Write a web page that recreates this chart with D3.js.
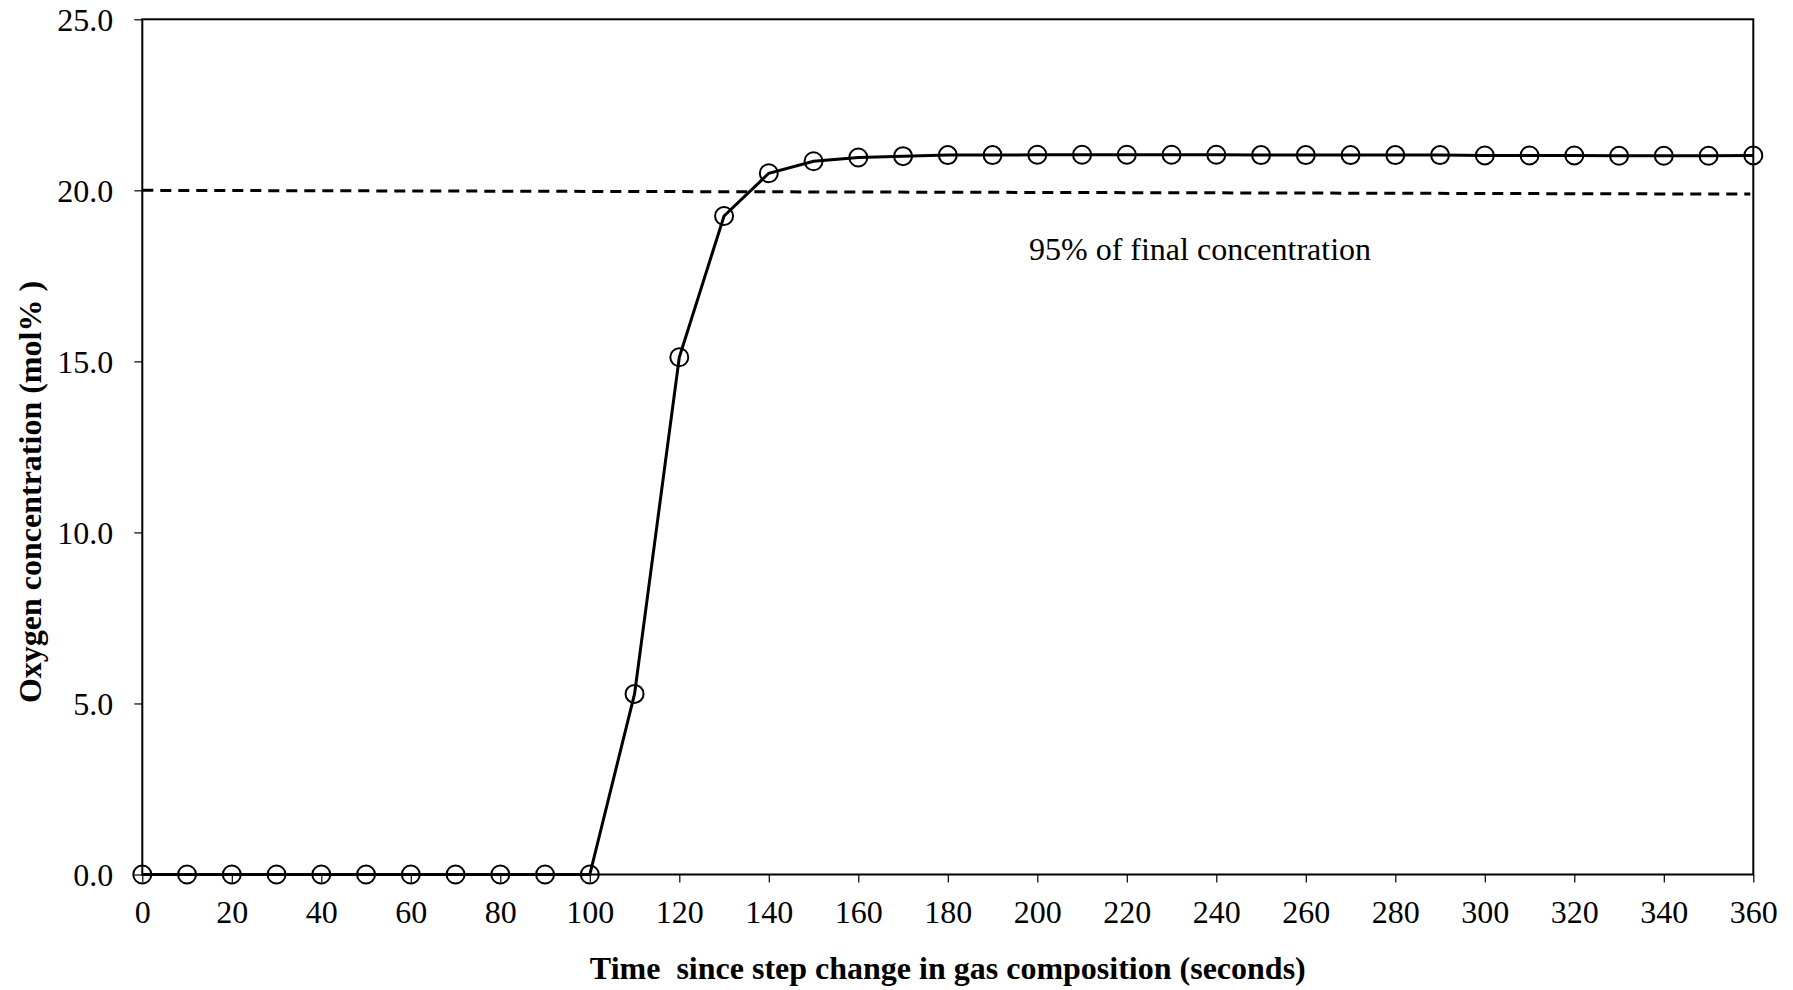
<!DOCTYPE html>
<html>
<head>
<meta charset="utf-8">
<script src="https://cdn.jsdelivr.net/npm/d3@7"></script>
<style>
  body { margin: 0; background: #fff; }
  svg { display: block; }
</style>
</head>
<body>
<div id="chart"></div>
<script>
// time since step change (s) and measured O2 (mol%)
var times = [0, 10, 20, 30, 40, 50, 60, 70, 80, 90, 100, 110, 120, 130, 140, 150, 160, 170, 180,
    190, 200, 210, 220, 230, 240, 250, 260, 270, 280, 290, 300, 310, 320, 330, 340, 350, 360];
var oxygen = [0, 0, 0, 0, 0, 0, 0, 0, 0, 0, 0, 5.28, 15.12, 19.25, 20.50, 20.85, 20.96, 21.00, 21.03,
    21.03, 21.04, 21.04, 21.04, 21.04, 21.04, 21.03, 21.03, 21.03, 21.03, 21.03, 21.02, 21.02, 21.02, 21.01, 21.01, 21.01, 21.02];
// 95% threshold line (start, end)
var thresholdX = [0, 360];
var thresholdY = [20.0, 19.89];
var xTicks = d3.range(0, 361, 20);
var yTicks = [0, 5, 10, 15, 20, 25];
var xTitle = "Time  since step change in gas composition (seconds)";
var yTitle = "Oxygen concentration (mol% )";
var noteText = "95% of final concentration";

var w = 1793, h = 990;
var margin = {left: 142.3, right: 1793 - 1753.3, top: 19.3, bottom: 990 - 874.5};
var fontFam = "'Liberation Serif', 'Times New Roman', serif";

var svg = d3.select("#chart").append("svg").attr("width", w).attr("height", h);

var x = d3.scaleLinear().domain([0, 360]).range([margin.left, w - margin.right]);
var y = d3.scaleLinear().domain([0, 25]).range([h - margin.bottom, margin.top]);

// frame
svg.append("rect")
    .attr("x", x(0)).attr("y", y(25))
    .attr("width", x(360) - x(0)).attr("height", y(0) - y(25))
    .attr("fill", "none").attr("stroke", "#000").attr("stroke-width", 2);

var xAxis = svg.append("g")
    .attr("transform", "translate(0," + y(0) + ")")
    .call(d3.axisBottom(x).tickValues(xTicks).tickSize(8).tickPadding(18).tickFormat(d3.format("d")));
var yAxis = svg.append("g")
    .attr("transform", "translate(" + x(0) + ",0)")
    .call(d3.axisLeft(y).tickValues(yTicks).tickSize(8).tickPadding(21).tickFormat(d3.format(".1f")));

[xAxis, yAxis].forEach(function(g) {
    g.select(".domain").remove();
    g.selectAll("line").attr("stroke", "#000").attr("stroke-width", 1.2);
    g.selectAll("text")
        .attr("font-family", fontFam)
        .attr("font-size", "32px")
        .attr("fill", "#000");
});
yAxis.selectAll("text").attr("dy", "0.34em");

// threshold dashed line
svg.append("line")
    .attr("x1", x(thresholdX[0])).attr("y1", y(thresholdY[0]))
    .attr("x2", x(thresholdX[1]) - 3).attr("y2", y(thresholdY[1]))
    .attr("stroke", "#000").attr("stroke-width", 3)
    .attr("stroke-dasharray", "11,7");

var pts = times.map(function(t, i) { return [t, oxygen[i]]; });

var line = d3.line()
    .x(function(d) { return x(d[0]); })
    .y(function(d) { return y(d[1]); });

svg.append("path")
    .datum(pts)
    .attr("d", line)
    .attr("fill", "none")
    .attr("stroke", "#000")
    .attr("stroke-width", 3);

svg.selectAll("circle.pt")
    .data(pts)
    .enter().append("circle")
    .attr("class", "pt")
    .attr("cx", function(d) { return x(d[0]); })
    .attr("cy", function(d) { return y(d[1]); })
    .attr("r", 9)
    .attr("fill", "none")
    .attr("stroke", "#000")
    .attr("stroke-width", 2);

svg.append("text")
    .attr("x", 1029).attr("y", 260)
    .attr("font-family", fontFam)
    .attr("font-size", "32px")
    .text(noteText);

svg.append("text")
    .attr("x", (x(0) + x(360)) / 2).attr("y", 979)
    .attr("text-anchor", "middle")
    .attr("font-family", fontFam)
    .attr("font-size", "32px")
    .attr("font-weight", "bold")
    .style("white-space", "pre")
    .text(xTitle);

svg.append("text")
    .attr("transform", "translate(41," + ((289 + 695) / 2) + ") rotate(-90)")
    .attr("text-anchor", "middle")
    .attr("font-family", fontFam)
    .attr("font-size", "32px")
    .attr("font-weight", "bold")
    .style("white-space", "pre")
    .text(yTitle);
</script>
</body>
</html>
